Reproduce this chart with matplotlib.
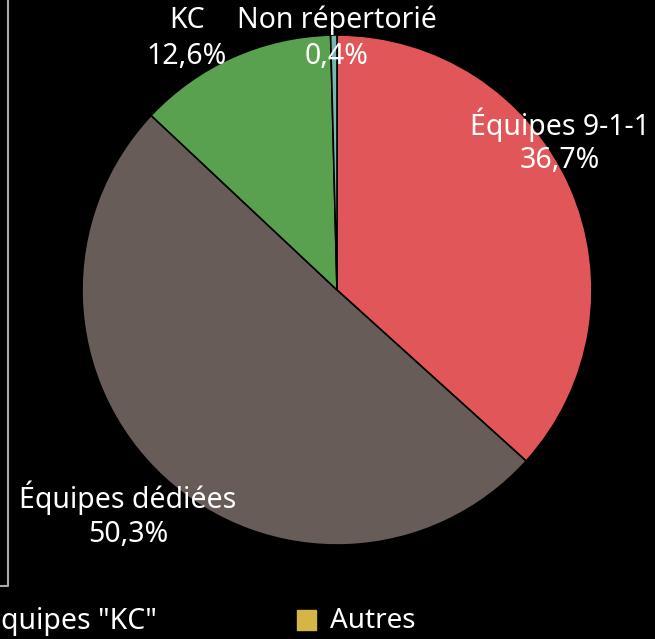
import matplotlib
matplotlib.use("Agg")
import matplotlib.pyplot as plt
from matplotlib.patches import Rectangle

categories = ["Équipes 9-1-1", "Équipes dédiées", "KC", "Non répertorié"]
values = [36.7, 50.3, 12.6, 0.4]
value_labels = ["36,7%", "50,3%", "12,6%", "0,4%"]
colors = ["#E15759", "#675C58", "#59A14F", "#76B7B2"]
legend_labels = ['quipes "KC"', "Autres"]
legend_colors = ["#59A14F", "#D4B545"]

plt.rcParams['font.family'] = ['Noto Sans', 'DejaVu Sans']

W, H = 655, 639
fig = plt.figure(figsize=(W / 100, H / 100), dpi=100, facecolor="black")
ax = fig.add_axes([0, 0, 1, 1])
ax.set_facecolor("black")

cx, cy, r = 337, H - 290, 255
ax.pie(values, colors=colors, startangle=90, counterclock=False,
       center=(cx, cy), radius=r, frame=True,
       wedgeprops=dict(edgecolor="black", linewidth=1.2))
ax.set_xlim(0, W)
ax.set_ylim(0, H)
ax.axis("off")

label_pos = [(560, 125), (128, 498), (187, 20), (337, 20)]
for name, val, (x, y) in zip(categories, value_labels, label_pos):
    ax.text(x, H - y, name, color="white", fontsize=20.5, ha="center", va="center")
    ax.text(x, H - y - 36, val, color="white", fontsize=20.5, ha="center", va="center")

# left frame line
ax.plot([8, 8, 0], [H, H - 586, H - 586], color="#AAAAAA", linewidth=1.5)

# legend (partially visible in the reference)
ax.text(1, H - 621, legend_labels[0], color="white", fontsize=20.5, ha="left", va="center",
        fontweight="light")
ax.add_patch(Rectangle((297, H - 630), 19, 20, color=legend_colors[1]))
ax.text(330, H - 621, legend_labels[1], color="white", fontsize=20, ha="left", va="center",
        fontweight="light")

fig.savefig("out.png", dpi=100, facecolor="black")
